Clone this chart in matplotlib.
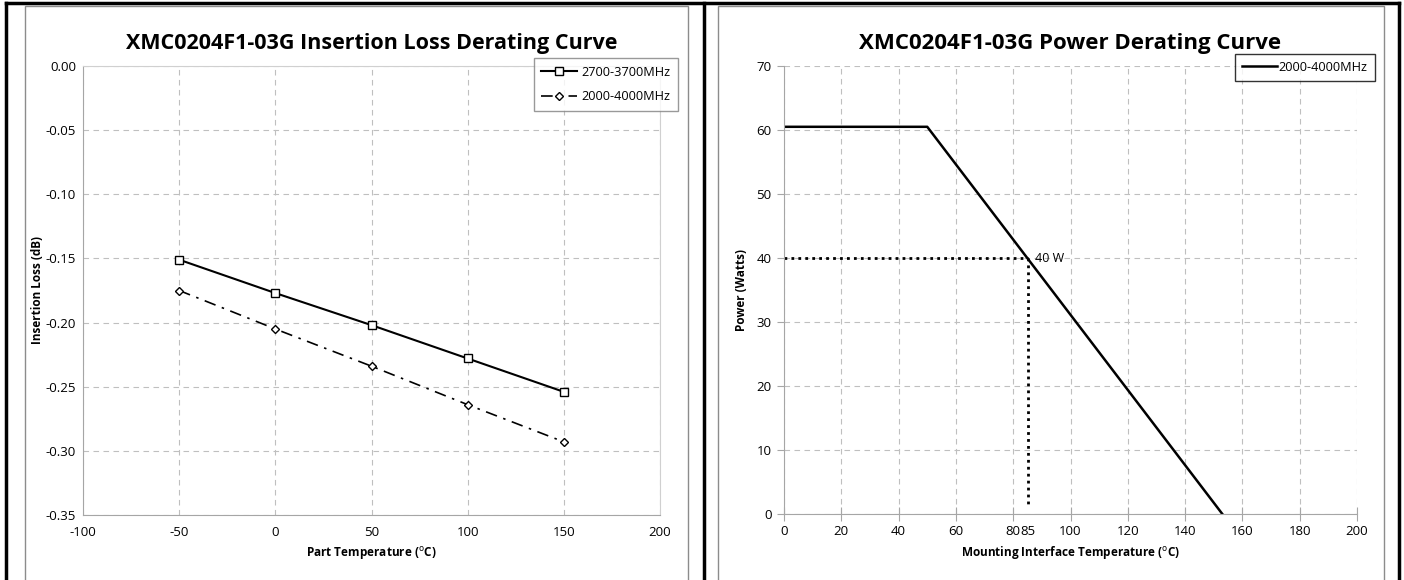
import matplotlib.pyplot as plt
from matplotlib.patches import Rectangle
from matplotlib.lines import Line2D

plt.rcParams['font.family'] = ['Open Sans', 'DejaVu Sans']
plt.rcParams['axes.unicode_minus'] = False

# ---- data ----
temp_il = [-50, 0, 50, 100, 150]
il_2700_3700 = [-0.151, -0.177, -0.202, -0.228, -0.254]
il_2000_4000 = [-0.175, -0.205, -0.234, -0.264, -0.293]

temp_pw = [0, 50, 153]
power = [60.5, 60.5, 0]
rated_temp = 85
rated_power = 40

fig = plt.figure(figsize=(14.04, 5.8), dpi=100)
W, H = 1404.0, 580.0

def px(x0, y0, x1, y1):
    # pixel box -> figure fraction [left, bottom, width, height]
    return [x0 / W, 1 - y1 / H, (x1 - x0) / W, (y1 - y0) / H]

# panel borders and outer frame
for b in [(25, 6, 688, 590), (718, 6, 1384, 590)]:
    fig.patches.append(Rectangle((b[0] / W, 1 - b[3] / H), (b[2] - b[0]) / W, (b[3] - b[1]) / H,
                                 transform=fig.transFigure, fill=False, ec='#8c8c8c', lw=1))
for xx in [6, 704, 1399]:
    fig.add_artist(Line2D([xx / W, xx / W], [0, 1 - 3 / H], transform=fig.transFigure, color='black', lw=2.5))
fig.add_artist(Line2D([6 / W, 1399 / W], [1 - 3 / H, 1 - 3 / H], transform=fig.transFigure, color='black', lw=2.5))

grid_kw = dict(color='#bfbfbf', ls=(0, (5, 4)), lw=0.8)

# ---- left chart ----
ax1 = fig.add_axes(px(83, 66, 660, 515))
ax1.plot(temp_il, il_2700_3700, color='black', lw=1.5, marker='s', ms=6, mfc='white', mec='black',
         mew=1, label='2700-3700MHz')
ax1.plot(temp_il, il_2000_4000, color='black', lw=1.2, ls=(0, (7, 4, 1.5, 4)), marker='D', ms=4,
         mfc='white', mec='black', mew=1, label='2000-4000MHz')
ax1.set_xlim(-100, 200)
ax1.set_ylim(-0.35, 0.0)
ax1.set_xticks(range(-100, 201, 50))
yt = [0, -0.05, -0.10, -0.15, -0.20, -0.25, -0.30, -0.35]
ax1.set_yticks(yt)
ax1.set_yticklabels(['%.2f' % v for v in yt])
ax1.grid(True, **grid_kw)
for s in ax1.spines.values():
    s.set_color('#d0d0d0')
ax1.spines['left'].set_color('#a6a6a6')
ax1.spines['bottom'].set_color('#a6a6a6')
ax1.tick_params(labelsize=9.5, colors='#000000', length=0, pad=5)
ax1.tick_params(axis='x', pad=8)
ax1.set_xlabel('Part Temperature ($^{\\mathrm{o}}$C)', fontsize=8.5, fontweight='bold', labelpad=4)
ax1.set_ylabel('Insertion Loss (dB)', fontsize=8.5, fontweight='bold', labelpad=1)
ax1.set_title('XMC0204F1-03G Insertion Loss Derating Curve', fontsize=15.5, fontweight='bold', pad=12)
leg1 = ax1.legend(loc='upper right', bbox_to_anchor=(1.031, 1.018), fontsize=9.2, frameon=True,
                  fancybox=False, edgecolor='#808080', handlelength=2.8, borderpad=0.6,
                  labelspacing=0.9, handletextpad=0.3, borderaxespad=0)
leg1.get_frame().set_linewidth(1)

# ---- right chart ----
ax2 = fig.add_axes(px(784, 66, 1357, 514))
ax2.plot(temp_pw, power, color='black', lw=1.8, label='2000-4000MHz')
ax2.plot([0, rated_temp], [rated_power, rated_power], color='black', lw=2, ls=(0, (1, 1.5)))
ax2.plot([rated_temp, rated_temp], [rated_power, 1], color='black', lw=2, ls=(0, (1, 1.5)))
ax2.text(rated_temp + 2.5, rated_power, '%d W' % rated_power, fontsize=9, va='center', ha='left')
ax2.set_xlim(0, 200)
ax2.set_ylim(0, 70)
ax2.set_xticks(range(0, 201, 20))
ax2.set_xticks([rated_temp], minor=True)
ax2.set_xticklabels([str(rated_temp)], minor=True)
ax2.set_yticks(range(0, 71, 10))
ax2.grid(True, **grid_kw)
ax2.spines['top'].set_visible(False)
ax2.spines['right'].set_visible(False)
ax2.spines['left'].set_color('#a6a6a6')
ax2.spines['bottom'].set_color('#a6a6a6')
ax2.tick_params(labelsize=9.5, colors='#a6a6a6', labelcolor='black', length=5, direction='out', pad=4)
ax2.tick_params(axis='x', direction='inout', length=10, pad=3)
ax2.tick_params(axis='x', which='minor', length=0, labelsize=9.5, labelcolor='black', pad=8)
ax2.set_xlabel('Mounting Interface Temperature ($^{\\mathrm{o}}$C)', fontsize=8.5, fontweight='bold', labelpad=4)
ax2.set_ylabel('Power (Watts)', fontsize=8.5, fontweight='bold', labelpad=6)
ax2.set_title('XMC0204F1-03G Power Derating Curve', fontsize=16, fontweight='bold', pad=12)
leg2 = ax2.legend(loc='upper right', bbox_to_anchor=(1.031, 1.027), fontsize=9.2, frameon=True,
                  fancybox=False, edgecolor='black', handlelength=2.8, borderpad=0.55,
                  handletextpad=0.1, borderaxespad=0)
leg2.get_frame().set_linewidth(1)

fig.savefig('out.png', dpi=100)
